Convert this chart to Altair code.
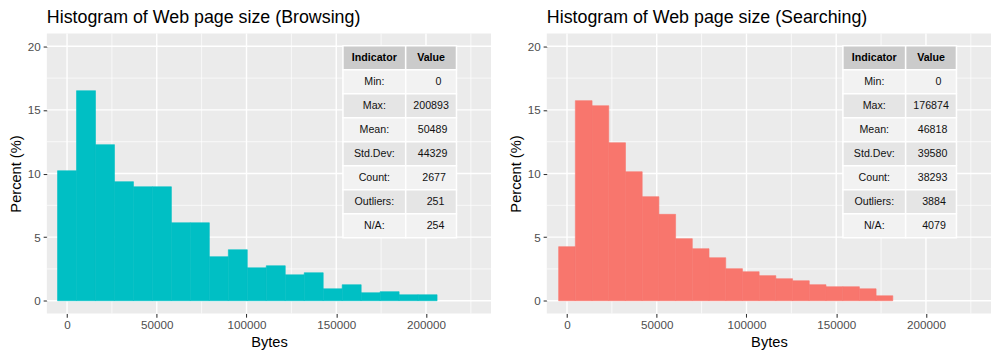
import altair as alt
import pandas as pd

# ---------------- data ----------------
browse_pct = [10.22, 16.51, 12.27, 9.36, 8.96, 8.96, 6.13, 6.13, 3.46, 4.01,
              2.59, 2.75, 2.04, 2.20, 0.94, 1.26, 0.63, 0.71, 0.47, 0.47]
search_pct = [4.25, 15.73, 15.33, 12.42, 10.14, 8.18, 6.79, 4.88, 4.09, 3.38,
              2.52, 2.28, 1.97, 1.73, 1.57, 1.26, 1.10, 1.10, 0.94, 0.39]
indicators = ["Min:", "Max:", "Mean:", "Std.Dev:", "Count:", "Outliers:", "N/A:"]
browse_stats = [0, 200893, 50489, 44329, 2677, 251, 254]
search_stats = [0, 176874, 46818, 39580, 38293, 3884, 4079]
x_major = [0, 50000, 100000, 150000, 200000]
x_minor = [25000, 75000, 125000, 175000, 225000]
y_major = [0, 5, 10, 15, 20]
y_minor = [2.5, 7.5, 12.5, 17.5]

# ---------------- layout / style ----------------
W, H = 446, 281
XDOM = [-11250, 236250]
YDOM = [-1, 21]
FONT = "Liberation Sans"
TBL_X = [297.3, 360.3, 411.3]   # pixel offsets inside the panel
TBL_TOP = 12.3
ROW_H = 24.1
TBL_FS = 10.7
SPACE_W = 0.278 * TBL_FS       # width of a padding space (R right-justifies the values)

XS = alt.Scale(domain=XDOM, nice=False, zero=False)
YS = alt.Scale(domain=YDOM, nice=False, zero=False)
XAXIS = alt.Axis(values=x_major, format="d", grid=False, domain=False,
                 tickSize=3.7, tickWidth=1.07, tickColor="#333333",
                 labelColor="#4D4D4D", labelFontSize=11.7, labelPadding=2.9,
                 labelFont=FONT, labelFlush=False, labelOverlap=False,
                 titleFont=FONT, titleFontSize=14.7, titleFontWeight="normal",
                 titleColor="black", titlePadding=3)
YAXIS = alt.Axis(values=y_major, grid=False, domain=False,
                 tickSize=3.7, tickWidth=1.07, tickColor="#333333",
                 labelColor="#4D4D4D", labelFontSize=11.7, labelPadding=2.9,
                 labelFont=FONT, labelFlush=False, labelOverlap=False,
                 titleFont=FONT, titleFontSize=14.7, titleFontWeight="normal",
                 titleColor="black", titlePadding=4)


def X(field):
    return alt.X(field, scale=XS, axis=XAXIS, title="Bytes")


def Y(field):
    return alt.Y(field, scale=YS, axis=YAXIS, title="Percent (%)")


def px_to_x(px):
    return XDOM[0] + px / W * (XDOM[1] - XDOM[0])


def py_to_y(py):
    return YDOM[1] - py / H * (YDOM[1] - YDOM[0])


def table_frames(stats):
    width = max(len(str(v)) for v in stats)
    cells, texts = [], []
    for r in range(len(indicators) + 1):
        y0 = TBL_TOP + r * ROW_H
        y1 = y0 + ROW_H
        if r == 0:
            fill = "#CBCBCB"
            labels = ["Indicator", "Value"]
            shifts = [0, 0]
            weight = "bold"
        else:
            fill = "#F2F2F2" if r % 2 == 1 else "#E5E5E5"
            val = str(stats[r - 1])
            labels = [indicators[r - 1], val]
            shifts = [0, (width - len(val)) * SPACE_W / 2]
            weight = "normal"
        for c in range(2):
            cells.append({"x0": px_to_x(TBL_X[c]), "x1": px_to_x(TBL_X[c + 1]),
                          "y0": py_to_y(y0), "y1": py_to_y(y1), "fill": fill})
            texts.append({"tx": px_to_x((TBL_X[c] + TBL_X[c + 1]) / 2 + shifts[c]),
                          "ty": py_to_y((y0 + y1) / 2),
                          "label": labels[c], "weight": weight})
    return pd.DataFrame(cells), pd.DataFrame(texts)


def panel(title, pct, vmax, color, stats):
    n = len(pct)
    w = vmax / (n - 1)
    df = pd.DataFrame({"center": [i * w for i in range(n)], "pct": pct})
    df["x0"] = df["center"] - w / 2
    df["x1"] = df["center"] + w / 2

    vminor = alt.Chart(pd.DataFrame({"v": x_minor})).mark_rule(color="white", strokeWidth=0.7).encode(
        x=X("v:Q"))
    hminor = alt.Chart(pd.DataFrame({"v": y_minor})).mark_rule(color="white", strokeWidth=0.7).encode(
        y=Y("v:Q"))
    vmajor = alt.Chart(pd.DataFrame({"v": x_major})).mark_rule(color="white", strokeWidth=1.4).encode(
        x=X("v:Q"))
    hmajor = alt.Chart(pd.DataFrame({"v": y_major})).mark_rule(color="white", strokeWidth=1.4).encode(
        y=Y("v:Q"))

    bars = alt.Chart(df).mark_rect(color=color, stroke=color, strokeWidth=0.6).encode(
        x=X("x0:Q"), x2="x1:Q",
        y=Y("pct:Q"), y2=alt.datum(0),
    )

    cells_df, text_df = table_frames(stats)
    cells = alt.Chart(cells_df).mark_rect(stroke="white", strokeWidth=1.5).encode(
        x=X("x0:Q"), x2="x1:Q",
        y=Y("y0:Q"), y2="y1:Q",
        fill=alt.Fill("fill:N", scale=None),
    )
    txt_head = alt.Chart(text_df[text_df["weight"] == "bold"]).mark_text(
        font=FONT, fontSize=TBL_FS, fontWeight="bold", color="black", align="center", baseline="middle"
    ).encode(x=X("tx:Q"), y=Y("ty:Q"), text="label:N")
    txt_body = alt.Chart(text_df[text_df["weight"] == "normal"]).mark_text(
        font=FONT, fontSize=TBL_FS, color="#111111", align="center", baseline="middle"
    ).encode(x=X("tx:Q"), y=Y("ty:Q"), text="label:N")

    return alt.layer(hminor, vminor, hmajor, vmajor, bars, cells, txt_head, txt_body).properties(
        width=W, height=H,
        title=alt.TitleParams(title, anchor="start", frame="group", font=FONT, fontSize=17.9,
                              fontWeight="normal", color="black", offset=6, baseline="top"),
    )


left = panel("Histogram of Web page size (Browsing)", browse_pct, browse_stats[1], "#00BFC4", browse_stats)
right = panel("Histogram of Web page size (Searching)", search_pct, search_stats[1], "#F8766D", search_stats)

chart = alt.hconcat(left, right, spacing=16).properties(
    padding={"left": 0, "top": 0, "right": 0, "bottom": 0}
).configure(font=FONT).configure_view(fill="#EBEBEB", stroke=None)

chart.save("out.html", embed_options={"renderer": "svg", "actions": False})
